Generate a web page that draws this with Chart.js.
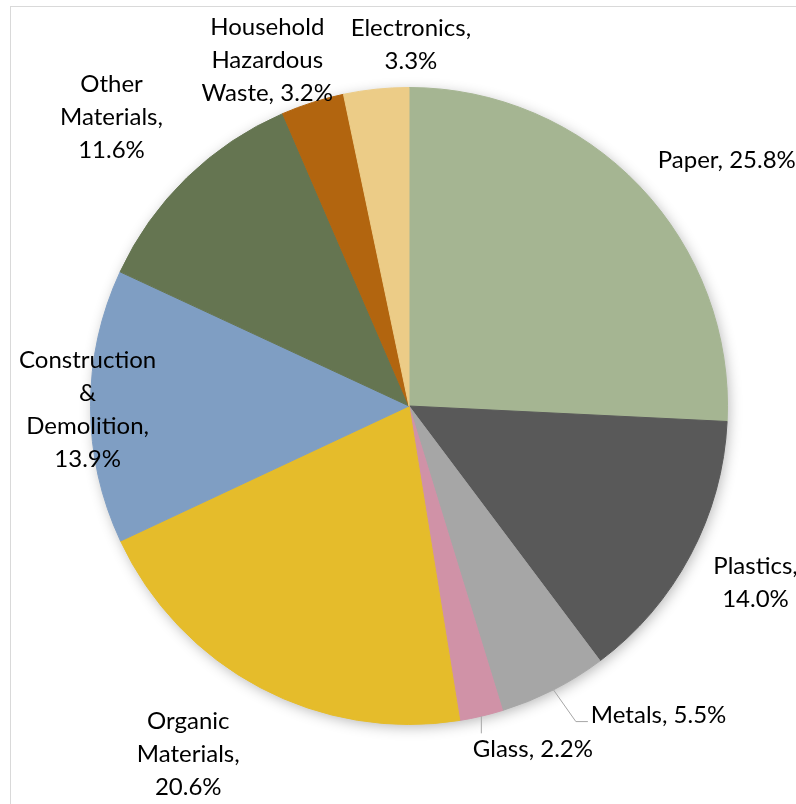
<!DOCTYPE html>
<html>
<head>
<meta charset="utf-8">
<script src="https://cdn.jsdelivr.net/npm/chart.js@4"></script>
<style>
  html, body { margin: 0; padding: 0; background: #fff; }
  #wrap { width: 796px; height: 804px; position: relative; }
</style>
</head>
<body>
<div id="wrap"><canvas id="wasteChart" width="796" height="804"></canvas></div>
<script>
// datos del gráfico
const categorias = ['Paper', 'Plastics', 'Metals', 'Glass', 'Organic Materials',
  'Construction & Demolition', 'Other Materials', 'Household Hazardous Waste', 'Electronics'];
const porcentajes = [25.8, 14.0, 5.5, 2.2, 20.6, 13.9, 11.6, 3.2, 3.3];
// texto de cada etiqueta, por líneas
const etiquetas = [
  ['Paper, 25.8%'],
  ['Plastics,', '14.0%'],
  ['Metals, 5.5%'],
  ['Glass, 2.2%'],
  ['Organic', 'Materials,', '20.6%'],
  ['Construction', '&', 'Demolition,', '13.9%'],
  ['Other', 'Materials,', '11.6%'],
  ['Household', 'Hazardous', 'Waste, 3.2%'],
  ['Electronics,', '3.3%']
];
const colores = ['#A5B592', '#595959', '#A6A6A6', '#D092A7', '#E5BC2B',
  '#7F9EC3', '#657551', '#B2650F', '#ECCC87'];

// posición de etiquetas relativa al centro, en unidades del radio
const posEtiquetas = [
  { dx: 0.781, dy: -0.771, align: 'left' },
  { dx: 1.088, dy: 0.556, align: 'center' },
  { dx: 0.571, dy: 0.972, align: 'left', leader: 'elbow' },
  { dx: 0.389, dy: 1.078, align: 'center', leader: 'down' },
  { dx: -0.693, dy: 1.094, align: 'center' },
  { dx: -1.009, dy: 0.011, align: 'center' },
  { dx: -0.934, dy: -0.906, align: 'center' },
  { dx: -0.445, dy: -1.085, align: 'center' },
  { dx: 0.006, dy: -1.135, align: 'center' }
];
const FUENTE = '24px Lato';
const INTERLINEA = 33;

const marcoPlugin = {
  id: 'marco',
  beforeDraw(chart) {
    const ctx = chart.ctx;
    ctx.save();
    ctx.strokeStyle = '#D9D9D9';
    ctx.lineWidth = 1;
    ctx.strokeRect(10.5, 6.5, chart.width + 20, chart.height + 20);
    ctx.restore();
  }
};

const sombraPlugin = {
  id: 'sombra',
  beforeDatasetsDraw(chart) {
    const arc = chart.getDatasetMeta(0).data[0];
    if (!arc) return;
    const ctx = chart.ctx;
    ctx.save();
    ctx.shadowColor = 'rgba(0,0,0,0.3)';
    ctx.shadowBlur = 14;
    ctx.shadowOffsetX = 2;
    ctx.shadowOffsetY = 3;
    ctx.fillStyle = '#fff';
    ctx.beginPath();
    ctx.arc(arc.x, arc.y, arc.outerRadius - 1, 0, Math.PI * 2);
    ctx.fill();
    ctx.restore();
  }
};

const etiquetasPlugin = {
  id: 'etiquetas',
  afterDatasetsDraw(chart) {
    const ctx = chart.ctx;
    const arcs = chart.getDatasetMeta(0).data;
    ctx.save();
    ctx.font = FUENTE;
    ctx.fillStyle = '#000';
    ctx.textBaseline = 'middle';
    arcs.forEach((arc, i) => {
      const p = posEtiquetas[i];
      const r = arc.outerRadius;
      const x = arc.x + p.dx * r;
      const y = arc.y + p.dy * r;
      const lineas = etiquetas[i];
      const y0 = y - (lineas.length - 1) * INTERLINEA / 2;
      ctx.textAlign = p.align;
      lineas.forEach((t, k) => ctx.fillText(t, x, y0 + k * INTERLINEA));

      if (p.leader) {
        const mid = (arc.startAngle + arc.endAngle) / 2;
        const sx = arc.x + Math.cos(mid) * r;
        const sy = arc.y + Math.sin(mid) * r;
        ctx.strokeStyle = '#A6A6A6';
        ctx.lineWidth = 1;
        ctx.beginPath();
        ctx.moveTo(sx, sy);
        if (p.leader === 'elbow') {
          ctx.lineTo(x - 15, y + 6);
          ctx.lineTo(x - 3, y + 6);
        } else {
          ctx.lineTo(sx, y - 16);
        }
        ctx.stroke();
      }
    });
    ctx.restore();
  }
};

const ctx = document.getElementById('wasteChart').getContext('2d');
new Chart(ctx, {
  type: 'pie',
  data: {
    labels: categorias,
    datasets: [{
      data: porcentajes,
      backgroundColor: colores,
      borderColor: colores,
      borderWidth: 1
    }]
  },
  options: {
    responsive: false,
    animation: false,
    layout: { padding: { left: 90, right: 68, top: 87, bottom: 79 } },
    plugins: {
      legend: { display: false },
      tooltip: { enabled: false }
    }
  },
  plugins: [marcoPlugin, sombraPlugin, etiquetasPlugin]
});
</script>
</body>
</html>
